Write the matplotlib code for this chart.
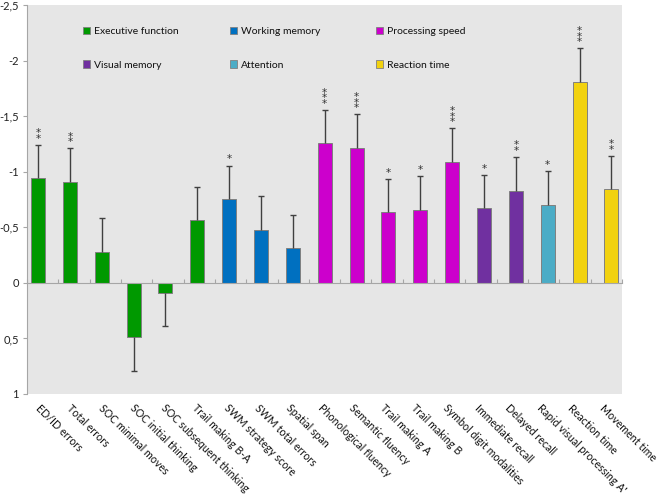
import numpy as np
import matplotlib
matplotlib.use("Agg")
import matplotlib.pyplot as plt
from matplotlib.patches import Patch
from matplotlib.legend import Legend
from matplotlib.ticker import FixedLocator, FuncFormatter

plt.rcParams['font.family'] = ['Lato', 'DejaVu Sans']

labels = ["ED/ID errors", "Total errors", "SOC minimal moves", "SOC initial thinking",
          "SOC subsequent thinking", "Trail making B-A", "SWM strategy score",
          "SWM total errors", "Spatial span", "Phonological fluency", "Semantic fluency",
          "Trail making A", "Trail making B", "Symbol digit modalities", "Immediate recall",
          "Delayed recall", "Rapid visual processing A'", "Reaction time", "Movement time"]
values = [-0.94, -0.91, -0.28, 0.49, 0.09, -0.565, -0.755, -0.48, -0.31, -1.255, -1.21,
          -0.635, -0.66, -1.09, -0.67, -0.83, -0.70, -1.81, -0.84]
errors = [0.30, 0.30, 0.30, 0.30, 0.30, 0.295, 0.30, 0.30, 0.30, 0.30, 0.305,
          0.295, 0.30, 0.30, 0.30, 0.305, 0.305, 0.30, 0.30]
stars = [2, 2, 0, 0, 0, 0, 1, 0, 0, 3, 3, 1, 1, 3, 1, 2, 1, 3, 2]
domains = (["Executive function"] * 6 + ["Working memory"] * 3 + ["Processing speed"] * 5
           + ["Visual memory"] * 2 + ["Attention"] + ["Reaction time"] * 2)
legend_columns = [["Executive function", "Visual memory"],
                  ["Working memory", "Attention"],
                  ["Processing speed", "Reaction time"]]
domain_colors = {"Executive function": "#009900", "Working memory": "#0070C0",
                 "Processing speed": "#CC00CC", "Visual memory": "#7030A0",
                 "Attention": "#4BACC6", "Reaction time": "#F2D20F"}
yticks = [-2.5, -2.0, -1.5, -1.0, -0.5, 0.0, 0.5, 1.0]

W, H = 662, 495
ax_l, ax_r, ax_t, ax_b = 27, 622, 5, 394
fig = plt.figure(figsize=(W / 100, H / 100), dpi=100)
ax = fig.add_axes([ax_l / W, 1 - ax_b / H, (ax_r - ax_l) / W, (ax_b - ax_t) / H])
ax.set_facecolor("#E6E6E6")

x = np.arange(len(labels))
vals = np.array(values)
errs = np.array(errors)
colors = [domain_colors[d] for d in domains]

ax.bar(x, vals, width=0.44, color=colors, edgecolor="#808080", linewidth=0.7, zorder=3)

lower = np.where(vals < 0, errs, 0)
upper = np.where(vals >= 0, errs, 0)
ax.errorbar(x, vals, yerr=[lower, upper], fmt="none", ecolor="#404040",
            elinewidth=1.0, capsize=0, zorder=4)
ends = vals - lower + upper
ax.plot(x, ends, linestyle="none", marker="_", markersize=5, markeredgewidth=1.0,
        color="#404040", zorder=4)

for i, n in enumerate(stars):
    for k in range(n):
        ax.annotate("*", xy=(x[i], ends[i]), xytext=(0, 0.8 + 4.0 * k),
                    textcoords="offset points", ha="center", va="bottom",
                    fontsize=7.5, color="#333333", family="DejaVu Sans", zorder=5)

lo, hi = -0.345, 18.33
ax.set_xlim(lo, hi)
ax.set_ylim(1, -2.5)

ax.yaxis.set_major_locator(FixedLocator(yticks))
ax.yaxis.set_major_formatter(FuncFormatter(lambda v, p: f"{v:g}".replace(".", ",")))
ax.tick_params(axis="y", direction="out", length=3, color="#A6A6A6", labelsize=8,
               pad=3, labelcolor="#222222")

ax.spines["top"].set_visible(False)
ax.spines["right"].set_visible(False)
ax.spines["left"].set_color("#A6A6A6")
ax.spines["bottom"].set_position(("data", 0))
ax.spines["bottom"].set_color("#A6A6A6")
ax.spines["bottom"].set_zorder(3.5)
ax.set_xticks(np.linspace(lo, hi, 20))
ax.set_xticklabels([])
ax.tick_params(axis="x", direction="in", length=3, color="#A6A6A6")

n = len(labels)
for i, lab in enumerate(labels):
    ax.text((i + 0.5) / n - 0.002, -0.022, lab, transform=ax.transAxes,
            rotation=-45, rotation_mode="anchor", ha="left", va="top",
            fontsize=7.7, color="#111111")

col_x = [83, 230, 376]
for cx, names in zip(col_x, legend_columns):
    handles = [Patch(facecolor=domain_colors[d], edgecolor="#808080", linewidth=0.6)
               for d in names]
    leg = Legend(ax, handles, names, loc="upper left",
                 bbox_to_anchor=((cx - ax_l) / (ax_r - ax_l), 1 - 22 / (ax_b - ax_t)),
                 frameon=False, fontsize=7.5,
                 handlelength=0.7, handleheight=0.7, handletextpad=0.35,
                 labelspacing=2.3, borderaxespad=0, borderpad=0)
    for t in leg.get_texts():
        t.set_color("#111111")
    ax.add_artist(leg)

fig.savefig("out.png", dpi=100)
